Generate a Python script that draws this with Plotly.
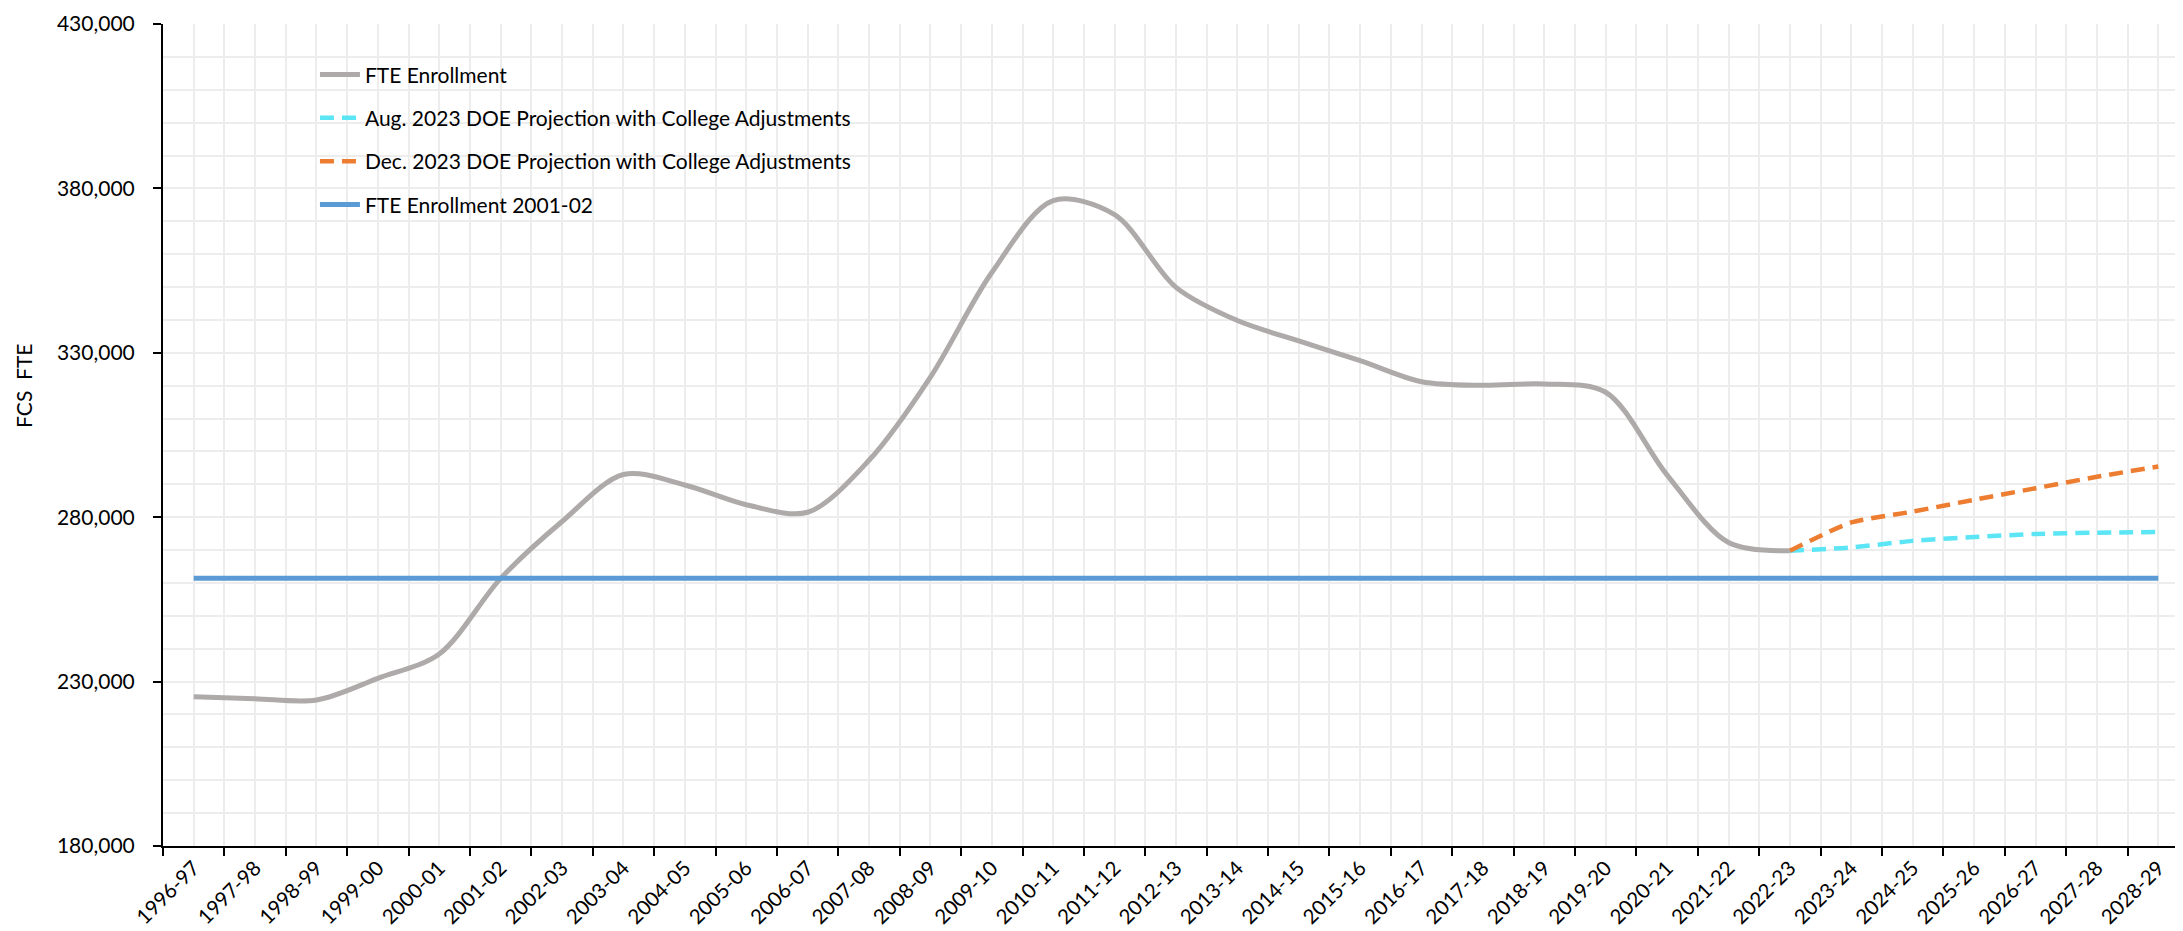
import plotly.graph_objects as go

categories = ["1996-97", "1997-98", "1998-99", "1999-00", "2000-01", "2001-02", "2002-03",
              "2003-04", "2004-05", "2005-06", "2006-07", "2007-08", "2008-09", "2009-10",
              "2010-11", "2011-12", "2012-13", "2013-14", "2014-15", "2015-16", "2016-17",
              "2017-18", "2018-19", "2019-20", "2020-21", "2021-22", "2022-23", "2023-24",
              "2024-25", "2025-26", "2026-27", "2027-28", "2028-29"]

fte_years = categories[:27]
fte_enrollment = [225400, 224800, 224400, 231000, 238400, 261400, 278700, 293000, 289800,
                  283800, 281500, 297300, 322600, 354400, 376300, 372000, 349900, 339800,
                  333600, 327600, 321200, 320100, 320500, 318000, 292800, 272300, 269800]

proj_years = ["2022-23", "2023-24", "2024-25", "2025-26", "2026-27", "2027-28", "2028-29"]
aug_projection = [269800, 270800, 272800, 274000, 274900, 275300, 275500]
dec_projection = [269800, 278400, 281700, 285300, 288800, 292300, 295400]

baseline_years = categories
baseline_2001_02 = [261400] * len(categories)

y_ticks = [180000, 230000, 280000, 330000, 380000, 430000]

FONT = "Lato"
GRID = "#EDEDED"


def pos(labels):
    return [categories.index(c) for c in labels]


fig = go.Figure()
fig.add_trace(go.Scatter(
    x=pos(fte_years), y=fte_enrollment, name="FTE Enrollment", mode="lines",
    line=dict(color="#AEAAAA", width=5, shape="spline", smoothing=0.9),
    legendgroup="a"))
fig.add_trace(go.Scatter(
    x=pos(proj_years), y=aug_projection,
    name="Aug. 2023 DOE Projection with College Adjustments", mode="lines",
    line=dict(color="#5BE5F5", width=4.5, dash="14px,8px", shape="spline", smoothing=0.6),
    legendgroup="b"))
fig.add_trace(go.Scatter(
    x=pos(proj_years), y=dec_projection,
    name="Dec. 2023 DOE Projection with College Adjustments", mode="lines",
    line=dict(color="#ED7D31", width=4.5, dash="14px,8px", shape="spline", smoothing=0.6),
    legendgroup="c"))
fig.add_trace(go.Scatter(
    x=pos(baseline_years), y=baseline_2001_02, name="FTE Enrollment 2001-02", mode="lines",
    line=dict(color="#5B9BD5", width=5),
    legendgroup="d"))

fig.update_layout(
    width=2183, height=931,
    margin=dict(l=155, r=2, t=14, b=93),
    paper_bgcolor="white", plot_bgcolor="white",
    font=dict(family=FONT, size=21, color="black"),
    showlegend=True,
    legend=dict(x=0.075, y=0.963, xanchor="left", yanchor="top",
                bgcolor="rgba(0,0,0,0)", font=dict(family=FONT, size=21),
                tracegroupgap=13, itemwidth=40),
    xaxis=dict(
        type="linear", range=[-0.5, len(categories) - 0.5],
        tickmode="array", tickvals=list(range(len(categories))), ticktext=categories,
        tickangle=-45, ticks="", showgrid=True, gridcolor=GRID, gridwidth=1.5,
        showline=True, linecolor="black", linewidth=2,
        tickfont=dict(family=FONT, size=20.5), ticklabelstandoff=0,
        minor=dict(tick0=-0.5, dtick=1, ticks="outside", ticklen=8, tickwidth=2,
                   tickcolor="black", showgrid=True, gridcolor=GRID, gridwidth=1.5),
        zeroline=False, fixedrange=True),
    yaxis=dict(
        range=[180000, 430000], tickmode="array", tickvals=y_ticks,
        ticktext=[f"{v:,}" for v in y_ticks],
        ticks="outside", ticklen=8, tickwidth=2, tickcolor="black",
        showgrid=True, gridcolor=GRID, gridwidth=1.5,
        showline=True, linecolor="black", linewidth=2,
        tickfont=dict(family=FONT, size=21), ticklabelstandoff=14,
        minor=dict(tick0=180000, dtick=10000, ticks="", showgrid=True,
                   gridcolor=GRID, gridwidth=1.5),
        zeroline=False, fixedrange=True),
    annotations=[dict(text="FCS\u00a0\u00a0FTE", xref="paper", yref="paper",
                      x=-0.069, y=0.56, xanchor="center", yanchor="middle",
                      textangle=-90, showarrow=False,
                      font=dict(family=FONT, size=21, color="black"))],
)

fig.write_html("out.html")
